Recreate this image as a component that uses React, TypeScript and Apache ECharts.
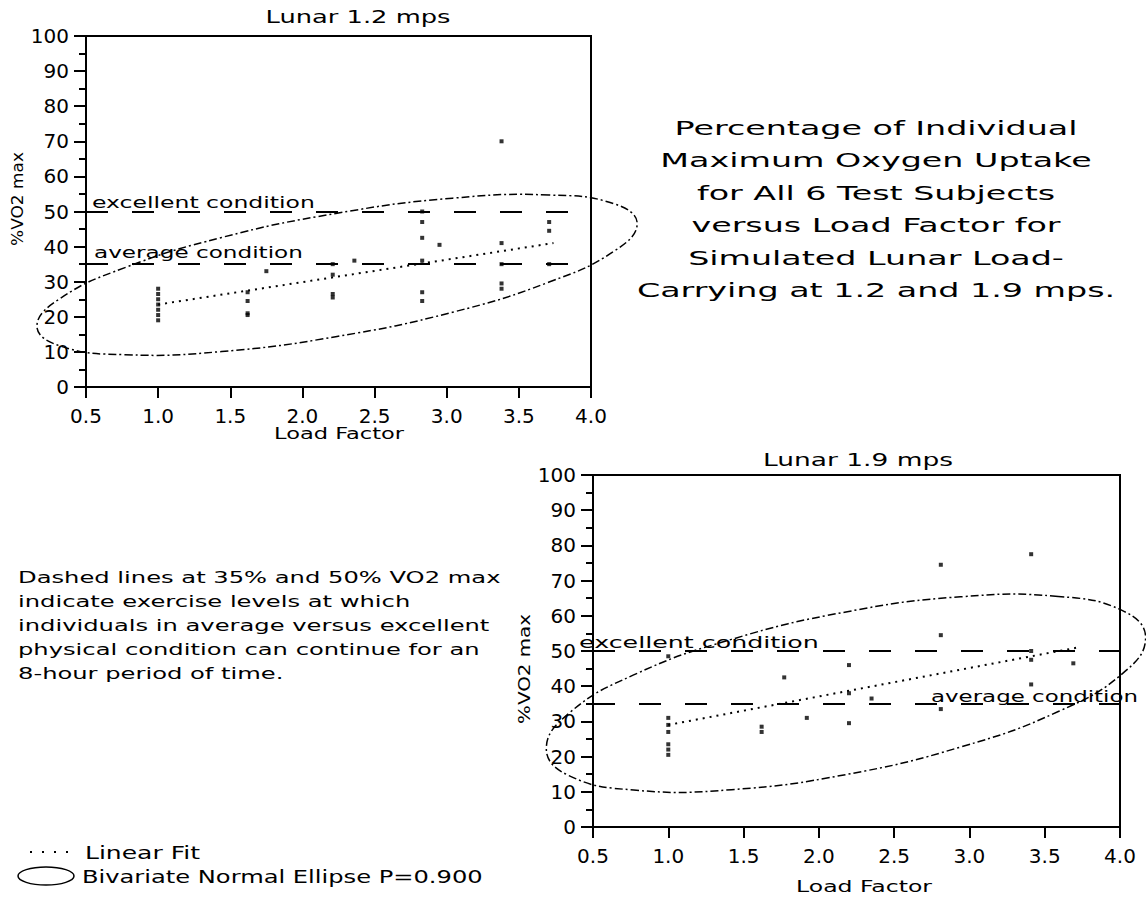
import { useEffect, useRef } from "react";
import * as echarts from "echarts";

const FONT = "DejaVu Sans";

// ---------- Lunar 1.2 mps ----------
const lunar12Load = [1.0, 1.0, 1.0, 1.0, 1.0, 1.0, 1.0, 1.62, 1.62, 1.62, 1.62, 1.75, 2.21, 2.21, 2.21, 2.21, 2.36, 2.83, 2.83, 2.83, 2.83, 2.83, 2.83, 2.95, 3.38, 3.38, 3.38, 3.38, 3.38, 3.71, 3.71, 3.71];
const lunar12VO2 = [28, 26.5, 25, 23.5, 22, 20.5, 19, 27, 24.5, 21, 20.5, 33, 26.5, 25.5, 32, 35, 36, 50, 47, 42.5, 36, 27, 24.5, 40.5, 70, 41, 35, 29.5, 28, 47, 44.5, 35];
const lunar12FitLoad = [1.0, 3.74];
const lunar12FitVO2 = [23.5, 41];
const lunar12EllipseLoad = [3.71, 3.04, 2.24, 1.44, 0.77, 0.32, 0.16, 0.32, 0.77, 1.44, 2.24, 3.04, 3.71, 4.16, 4.32, 4.16];
const lunar12EllipseVO2 = [54.7, 53.8, 49.5, 42.6, 34.0, 25.2, 17.3, 11.7, 9.2, 10.1, 14.4, 21.3, 29.9, 38.7, 46.6, 52.2];

// ---------- Lunar 1.9 mps ----------
const lunar19Load = [1.0, 1.0, 1.0, 1.0, 1.0, 1.0, 1.0, 1.62, 1.62, 1.77, 1.92, 2.2, 2.2, 2.2, 2.35, 2.81, 2.81, 2.81, 3.41, 3.41, 3.41, 3.41, 3.69];
const lunar19VO2 = [48.5, 31, 29, 27, 23.5, 22, 20.5, 28.5, 27, 42.5, 31, 46, 38, 29.5, 36.5, 74.5, 54.5, 33.5, 77.5, 50, 47.5, 40.5, 46.5];
const lunar19FitLoad = [1.0, 3.72];
const lunar19FitVO2 = [29, 51];
const lunar19EllipseLoad = [3.59, 2.94, 2.18, 1.42, 0.77, 0.34, 0.19, 0.34, 0.77, 1.42, 2.18, 2.94, 3.59, 4.02, 4.17, 4.02];
const lunar19EllipseVO2 = [65.5, 65.4, 61.1, 53.3, 43.2, 32.3, 22.2, 14.6, 10.5, 10.6, 14.9, 22.7, 32.8, 43.7, 53.8, 61.4];

// condition levels (% VO2 max)
const conditionLevels = [35, 50];

// texts
const chartTitles = ["Lunar 1.2 mps", "Lunar 1.9 mps"];
const xAxisTitle = "Load Factor";
const yAxisTitle = "%VO2 max";
const conditionLabels = ["excellent condition", "average condition"];
const headingLines = [
  "Percentage of Individual",
  "Maximum Oxygen Uptake",
  "for All 6 Test Subjects",
  "versus Load Factor for",
  "Simulated Lunar Load-",
  "Carrying at 1.2 and 1.9 mps.",
];
const noteLines = [
  "Dashed lines at 35% and 50% VO2 max",
  "indicate exercise levels at which",
  "individuals in average versus excellent",
  "physical condition can continue for an",
  "8-hour period of time.",
];
const legendLabels = ["Linear Fit", "Bivariate Normal Ellipse P=0.900"];

const zip = (xs: number[], ys: number[]) => xs.map((x, i) => [x, ys[i]]);

function measure(text: string, size: number): number {
  const ctx = document.createElement("canvas").getContext("2d");
  if (!ctx) return text.length * size * 0.6;
  ctx.font = `${size}px "${FONT}"`;
  return ctx.measureText(text).width;
}

function wideText(text: string, x: number, y: number, size: number, scaleX: number, align = "left", rotation = 0) {
  return {
    type: "text",
    x,
    y,
    rotation,
    scaleX,
    scaleY: 1,
    z: 100,
    silent: true,
    style: { text, fontSize: size, fontFamily: FONT, fill: "#000", textAlign: align, textVerticalAlign: "middle" },
  };
}

const fit = (text: string, size: number, width: number) => width / measure(text, size);

function xAxisFor(gridIndex: number) {
  return {
    gridIndex,
    type: "value",
    min: 0.5,
    max: 4.0,
    interval: 0.5,
    axisLine: { onZero: false, lineStyle: { color: "#000", width: 2 } },
    axisTick: { length: 11, lineStyle: { color: "#000", width: 2 } },
    axisLabel: { color: "#000", fontSize: 20, fontFamily: FONT, margin: 19, formatter: (v: number) => v.toFixed(1) },
    splitLine: { show: false },
  };
}

function yAxisFor(gridIndex: number) {
  return {
    gridIndex,
    type: "value",
    min: 0,
    max: 100,
    interval: 10,
    axisLine: { onZero: false, lineStyle: { color: "#000", width: 2 } },
    axisTick: { length: 12, lineStyle: { color: "#000", width: 2 } },
    minorTick: { show: true, splitNumber: 2, length: 7, lineStyle: { color: "#000", width: 2 } },
    axisLabel: { color: "#000", fontSize: 20, fontFamily: FONT, margin: 17 },
    splitLine: { show: false },
  };
}

function seriesFor(idx: number, load: number[], vo2: number[], fitX: number[], fitY: number[], elX: number[], elY: number[]) {
  return [
    {
      type: "scatter",
      xAxisIndex: idx,
      yAxisIndex: idx,
      data: zip(load, vo2),
      symbol: "rect",
      symbolSize: 4,
      itemStyle: { color: "#000" },
      emphasis: { disabled: true },
      markLine: {
        silent: true,
        symbol: ["none", "none"],
        label: { show: false },
        lineStyle: { color: "#000", width: 2, type: [22, 24] },
        emphasis: { disabled: true },
        data: conditionLevels.map((v) => ({ yAxis: v })),
      },
    },
    {
      type: "line",
      xAxisIndex: idx,
      yAxisIndex: idx,
      data: zip(fitX, fitY),
      symbol: "none",
      lineStyle: { color: "#000", width: 2, type: [2, 5] },
      emphasis: { disabled: true },
    },
    {
      type: "custom",
      xAxisIndex: idx,
      yAxisIndex: idx,
      data: zip(elX, elY),
      encode: { x: 0, y: 1 },
      clip: false,
      silent: true,
      renderItem: (params: any, api: any) => {
        if (params.dataIndex !== 0) return null;
        const points = elX.map((x, i) => api.coord([x, elY[i]]));
        return {
          type: "polygon",
          shape: { points, smooth: 0.45 },
          style: { fill: "none", stroke: "#000", lineWidth: 1.5, lineDash: [8, 3, 2, 3] },
        };
      },
    },
  ];
}

export default function App() {
  const ref = useRef<HTMLDivElement>(null);

  useEffect(() => {
    if (!ref.current) return;
    const chart = echarts.init(ref.current, undefined, { renderer: "svg" });

    const headScale = fit(headingLines[0], 20, 403);
    const noteScale = fit(noteLines[2], 15, 472);

    const graphic: any[] = [
      wideText(chartTitles[0], 358, 17, 18, fit(chartTitles[0], 18, 185), "center"),
      wideText(chartTitles[1], 858, 460, 18, fit(chartTitles[1], 18, 190), "center"),
      wideText(xAxisTitle, 339, 434, 15, fit(xAxisTitle, 15, 130), "center"),
      wideText(xAxisTitle, 864, 887, 15, fit(xAxisTitle, 15, 136), "center"),
      wideText(yAxisTitle, 18, 199, 15, fit(yAxisTitle, 15, 94), "center", Math.PI / 2),
      wideText(yAxisTitle, 525, 669, 15, fit(yAxisTitle, 15, 110), "center", Math.PI / 2),
      wideText(conditionLabels[0], 92, 203, 15, fit(conditionLabels[0], 15, 223)),
      wideText(conditionLabels[1], 94, 253, 15, fit(conditionLabels[1], 15, 209)),
      wideText(conditionLabels[0], 579, 643, 15, fit(conditionLabels[0], 15, 240)),
      wideText(conditionLabels[1], 931, 697, 15, fit(conditionLabels[1], 15, 207)),
      ...headingLines.map((t, i) => wideText(t, 876, 128 + i * 32.5, 20, headScale, "center")),
      ...noteLines.map((t, i) => wideText(t, 18, 578 + i * 24, 15, noteScale)),
      {
        type: "line",
        silent: true,
        shape: { x1: 30, y1: 852, x2: 68, y2: 852 },
        style: { stroke: "#000", lineWidth: 2, lineDash: [2, 10] },
      },
      {
        type: "ellipse",
        silent: true,
        shape: { cx: 46, cy: 876, rx: 28, ry: 9 },
        style: { fill: "none", stroke: "#000", lineWidth: 1.5 },
      },
      wideText(legendLabels[0], 85, 853, 17, fit(legendLabels[0], 17, 115)),
      wideText(legendLabels[1], 82, 877, 17, fit(legendLabels[1], 17, 401)),
    ];

    chart.setOption({
      animation: false,
      backgroundColor: "#fff",
      textStyle: { fontFamily: FONT, color: "#000" },
      grid: [
        { left: 86, top: 36, width: 505, height: 351, show: true, borderColor: "#000", borderWidth: 2, backgroundColor: "transparent" },
        { left: 593, top: 475, width: 527, height: 352, show: true, borderColor: "#000", borderWidth: 2, backgroundColor: "transparent" },
      ],
      xAxis: [xAxisFor(0), xAxisFor(1)],
      yAxis: [yAxisFor(0), yAxisFor(1)],
      series: [
        ...seriesFor(0, lunar12Load, lunar12VO2, lunar12FitLoad, lunar12FitVO2, lunar12EllipseLoad, lunar12EllipseVO2),
        ...seriesFor(1, lunar19Load, lunar19VO2, lunar19FitLoad, lunar19FitVO2, lunar19EllipseLoad, lunar19EllipseVO2),
      ],
      graphic,
    });

    return () => chart.dispose();
  }, []);

  return <div ref={ref} style={{ position: "absolute", left: 0, top: 0, width: 1146, height: 897 }} />;
}
